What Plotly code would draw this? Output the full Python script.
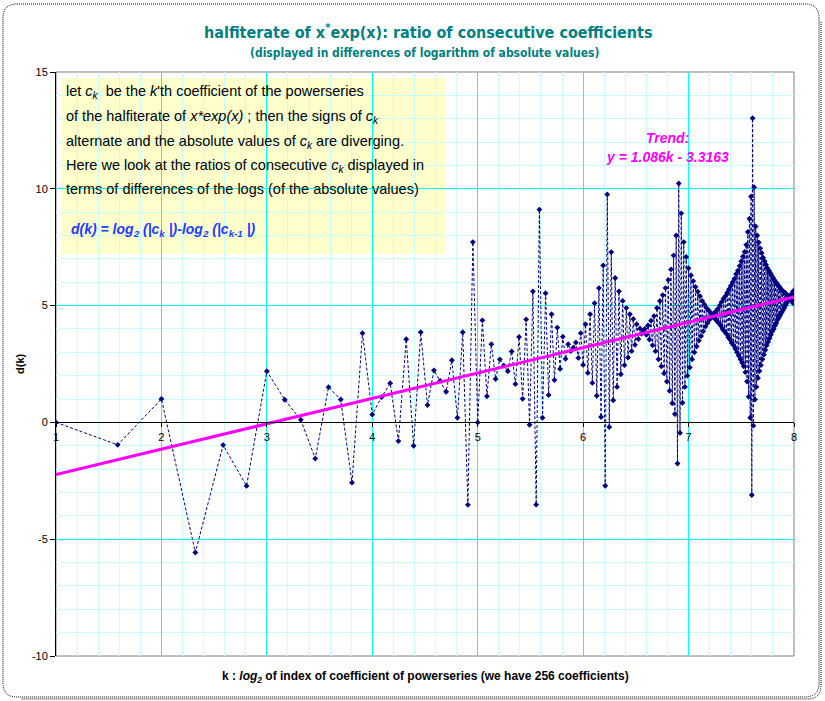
import numpy as np
import plotly.graph_objects as go

# ---------------- data: d(k) = log2|c_k| - log2|c_(k-1)|, grouped by octave of k ----------------
d_oct1 = [0.00, -0.96]                                           # k = 2..3
d_oct2 = [1.00, -5.57, -0.97, -2.72]                             # k = 4..7
d_oct3 = [2.19, 0.97, 0.11, -1.55, 1.51, 0.98, -2.58, 3.82]      # k = 8..15
d_oct4 = [0.34, 1.08, 1.68, -0.80, 3.56, -1.00, 3.86, 0.74,      # k = 16..31
          2.23, 1.78, 1.31, 2.66, 0.20, 3.86, -3.53, 7.72]
d_oct5 = [0.00, 4.37, 1.12, 3.35, 1.86, 2.70, 2.43, 2.19,        # k = 32..63
          3.04, 1.64, 3.66, 1.01, 4.41, -0.10, 5.61, -3.52,
          9.11, 0.20, 5.53, 1.17, 4.63, 1.81, 4.06, 2.29,
          3.67, 2.72, 3.35, 3.05, 3.20, 3.42, 2.76, 3.82]
d_oct6 = [2.46, 4.20, 2.12, 4.63, 1.69, 5.10, 1.14, 5.75,        # k = 64..127
          0.23, 6.72, -2.71, 9.76, -0.20, 7.29, 0.95, 6.18,
          1.52, 5.61, 2.06, 5.20, 2.45, 4.90, 2.78, 4.63,
          3.05, 4.43, 3.32, 4.20, 3.57, 4.02, 3.79, 3.90,
          4.00, 3.75, 4.15, 3.55, 4.35, 3.30, 4.55, 3.05,
          4.90, 2.70, 5.20, 2.40, 5.45, 2.10, 5.75, 1.75,
          6.10, 1.35, 6.55, 0.82, 7.15, 0.36, 8.00, -1.76,
          10.23, -0.45, 8.95, 0.84, 7.72, 1.52, 7.08, 2.00]
d_oct7 = [6.60, 2.35, 6.30, 2.70, 6.05, 3.00, 5.80, 3.25,        # k = 128..255
          5.60, 3.50, 5.40, 3.70, 5.20, 3.90, 5.05, 4.10,
          4.90, 4.25, 4.80, 4.40, 4.70, 4.50, 4.60, 4.65,
          4.45, 4.75, 4.35, 4.85, 4.25, 5.00, 4.15, 5.15,
          4.00, 5.30, 3.90, 5.40, 3.80, 5.55, 3.65, 5.70,
          3.55, 5.85, 3.40, 6.00, 3.30, 6.15, 3.15, 6.35,
          3.00, 6.50, 2.85, 6.70, 2.70, 6.90, 2.55, 7.10,
          2.40, 7.30, 2.15, 7.60, 1.75, 8.15, 1.10, 8.72,
          0.20, 9.67, -3.11, 13.02, -0.14, 10.07, 0.98, 8.39,
          1.52, 8.00, 1.90, 7.70, 2.20, 7.45, 2.45, 7.25,
          2.70, 7.05, 2.90, 6.90, 3.10, 6.75, 3.30, 6.60,
          3.45, 6.50, 3.60, 6.40, 3.75, 6.30, 3.90, 6.20,
          4.00, 6.10, 4.15, 6.00, 4.25, 5.95, 4.40, 5.85,
          4.50, 5.80, 4.60, 5.70, 4.70, 5.65, 4.80, 5.60,
          4.90, 5.55, 5.00, 5.50, 5.10, 5.45, 5.20, 5.40,
          5.30, 5.35, 5.40, 5.25, 5.50, 5.15, 5.60, 5.10]
d_oct8 = [5.65]                                                  # k = 256

octaves = [d_oct1, d_oct2, d_oct3, d_oct4, d_oct5, d_oct6, d_oct7, d_oct8]

trend_slope = 1.086
trend_intercept = -3.3163
trend_x = [1, 8]

x_ticks = [1, 2, 3, 4, 5, 6, 7, 8]
y_ticks = [-10, -5, 0, 5, 10, 15]

# ---------------- build series ----------------
k_all, d_all = [], []
for n, vals in enumerate(octaves, start=1):
    start = 2 ** n
    k_all += list(range(start, start + len(vals)))
    d_all += vals
x_all = np.log2(np.array(k_all, dtype=float))

# ---------------- geometry helpers (pixel -> paper) ----------------
L, R, T, B = 56, 794, 72, 656
W, H = 825, 701


def px(x):
    return (x - L) / (R - L)


def py(y):
    return (B - y) / (B - T)


NAVY = "#000080"
MAG = "#FF00FF"
TEAL = "#008080"
SANS = "Liberation Sans, Arial, sans-serif"
COND = "DejaVu Sans Condensed, Roboto, sans-serif"

fig = go.Figure()
fig.add_trace(go.Scatter(
    x=x_all, y=d_all, mode="lines+markers",
    line=dict(color=NAVY, width=1, dash="3px,2px"),
    marker=dict(symbol="diamond", size=4.5, color=NAVY),
    hoverinfo="x+y", showlegend=False))

trend_y = [trend_slope * t + trend_intercept for t in trend_x]
fig.add_trace(go.Scatter(
    x=trend_x, y=trend_y, mode="lines",
    line=dict(color=MAG, width=3), showlegend=False, hoverinfo="skip"))

# ---------------- shapes ----------------
shapes = []
shapes.append(dict(type="rect", xref="paper", yref="paper",
                   x0=px(61), x1=px(445), y0=py(254), y1=py(78),
                   fillcolor="#FFFFCC", line=dict(width=0), layer="between"))
shapes.append(dict(type="rect", xref="paper", yref="paper",
                   x0=0, x1=1, y0=0, y1=1,
                   line=dict(color="#808080", width=1), layer="between"))
fl, fr, ft, fb, r = 3, 819, 4, 697, 14


def P(x, y):
    return f"{px(x):.5f},{py(y):.5f}"


path = (f"M {P(fl + r, ft)} L {P(fr - r, ft)} Q {P(fr, ft)} {P(fr, ft + r)} "
        f"L {P(fr, fb - r)} Q {P(fr, fb)} {P(fr - r, fb)} "
        f"L {P(fl + r, fb)} Q {P(fl, fb)} {P(fl, fb - r)} "
        f"L {P(fl, ft + r)} Q {P(fl, ft)} {P(fl + r, ft)} Z")
shapes.append(dict(type="path", xref="paper", yref="paper", path=path,
                   line=dict(color="#000000", width=1, dash="1px,1px"), layer="above"))
spath = (f"M {P(fr + 2, ft + r + 4)} L {P(fr + 2, fb - r + 2)} Q {P(fr + 2, fb + 2)} {P(fr - r + 2, fb + 2)} "
         f"L {P(fl + r + 4, fb + 2)}")
shapes.append(dict(type="path", xref="paper", yref="paper", path=spath,
                   line=dict(color="#000000", width=1, dash="1px,1px"), layer="above"))

# ---------------- annotations ----------------
ann = []
TXT = dict(family=SANS, size=14.5, color="#000000")
box_lines = [
    (92, "let <i>c<sub>k</sub></i>  be the <i>k</i>'th coefficient of the powerseries"),
    (117, "of the halfiterate of <i>x*exp(x)</i> ; then the signs of <i>c<sub>k</sub></i>"),
    (142, "alternate and the absolute values of <i>c<sub>k</sub></i> are diverging."),
    (166, "Here we look at the ratios of consecutive <i>c<sub>k</sub></i> displayed in"),
    (189, "terms of differences of the logs (of the absolute values)"),
]
for yy, t in box_lines:
    ann.append(dict(text=t, xref="paper", yref="paper", x=px(64), y=py(yy),
                    xanchor="left", yanchor="middle", showarrow=False, font=TXT))
ann.append(dict(text="<b><i>d(k) = log<sub>2</sub> (|c<sub>k</sub> |)-log<sub>2</sub> (|c<sub>k-1</sub> |)</i></b>",
                xref="paper", yref="paper", x=px(69), y=py(230),
                xanchor="left", yanchor="middle", showarrow=False,
                font=dict(family=SANS, size=14, color="#1E3CFF")))
ann.append(dict(text="<b><i>Trend:</i></b>", xref="paper", yref="paper",
                x=px(667), y=py(138), xanchor="center", yanchor="middle",
                showarrow=False, font=dict(family=SANS, size=14, color=MAG)))
ann.append(dict(text="<b><i>y = 1.086k - 3.3163</i></b>", xref="paper", yref="paper",
                x=px(667), y=py(157), xanchor="center", yanchor="middle",
                showarrow=False, font=dict(family=SANS, size=14, color=MAG)))
ann.append(dict(text="<b>halfiterate of x<sup>*</sup>exp(x): ratio of consecutive coefficients</b>",
                xref="paper", yref="paper", x=px(428), y=py(32), xanchor="center", yanchor="middle",
                showarrow=False, font=dict(family=COND, size=16, color=TEAL)))
ann.append(dict(text="<b>(displayed in differences of logarithm of absolute values)</b>",
                xref="paper", yref="paper", x=px(425), y=py(53), xanchor="center", yanchor="middle",
                showarrow=False, font=dict(family=COND, size=12, color=TEAL)))
ann.append(dict(text="<b>k : <i>log<sub>2</sub></i> of index of coefficient of powerseries (we have 256 coefficients)</b>",
                xref="paper", yref="paper", x=px(425), y=py(677), xanchor="center", yanchor="middle",
                showarrow=False, font=dict(family=SANS, size=12, color="#000000")))
ann.append(dict(text="<b>d(k)</b>", xref="paper", yref="paper", x=px(20), y=py(364),
                xanchor="center", yanchor="middle", textangle=-90, showarrow=False,
                font=dict(family=SANS, size=11, color="#000000")))

fig.update_layout(
    width=W, height=H, autosize=False,
    margin=dict(l=L, r=W - R, t=T, b=H - B, pad=0),
    paper_bgcolor="white", plot_bgcolor="white",
    shapes=shapes, annotations=ann, showlegend=False,
    xaxis=dict(range=[1, 8], tickvals=x_ticks, ticktext=[str(v) for v in x_ticks],
               anchor="free", position=0.4, showline=True, linecolor="black", linewidth=1,
               ticks="outside", ticklen=4, tickcolor="black",
               showgrid=True, gridcolor="#00FFFF", gridwidth=1, zeroline=False,
               minor=dict(dtick=0.2, showgrid=True, gridcolor="#CCFFFF", gridwidth=1, ticks=""),
               tickfont=dict(family=SANS, size=11, color="black")),
    yaxis=dict(range=[-10, 15], tickvals=y_ticks, ticktext=[str(v) for v in y_ticks],
               showline=True, linecolor="black", linewidth=1,
               ticks="outside", ticklen=5, tickcolor="black",
               showgrid=True, gridcolor="#00FFFF", gridwidth=1, zeroline=False,
               minor=dict(dtick=1, showgrid=True, gridcolor="#CCFFFF", gridwidth=1, ticks=""),
               tickfont=dict(family=SANS, size=11, color="black")),
)

fig.write_html("out.html")
